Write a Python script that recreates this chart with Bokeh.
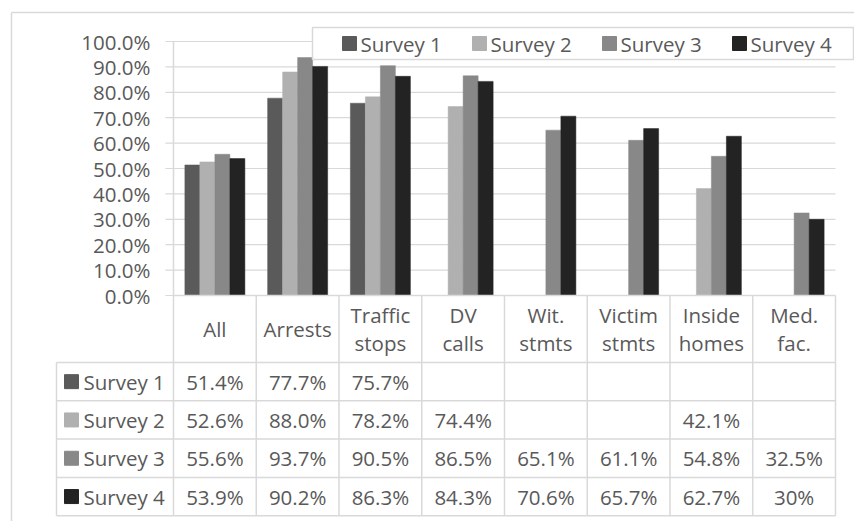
from bokeh.plotting import figure
from bokeh.models import Range1d, ColumnDataSource
from bokeh.core.properties import value
from bokeh.embed import file_html
from bokeh.resources import INLINE

# ---- data -------------------------------------------------------------
categories = ["All", "Arrests", "Traffic\nstops", "DV\ncalls", "Wit.\nstmts",
              "Victim\nstmts", "Inside\nhomes", "Med.\nfac."]
series_names = ["Survey 1", "Survey 2", "Survey 3", "Survey 4"]
survey_1 = [51.4, 77.7, 75.7, None, None, None, None, None]
survey_2 = [52.6, 88.0, 78.2, 74.4, None, None, 42.1, None]
survey_3 = [55.6, 93.7, 90.5, 86.5, 65.1, 61.1, 54.8, 32.5]
survey_4 = [53.9, 90.2, 86.3, 84.3, 70.6, 65.7, 62.7, 30.0]
y_ticks = [0, 10, 20, 30, 40, 50, 60, 70, 80, 90, 100]
# cells of the data table printed without a decimal place
whole_number_cells = {("Survey 4", "Med.\nfac.")}

series = [survey_1, survey_2, survey_3, survey_4]
colors = ["#5a5a5a", "#b0b0b0", "#888888", "#232323"]

# ---- layout (pixels) ----------------------------------------------------
W, H = 854, 521
PLOT_L, PLOT_R = 173, 835
ZERO_PX, FULL_PX = 295, 41
CAT_W = (PLOT_R - PLOT_L) / len(categories)
PX_PER_PCT = (ZERO_PX - FULL_PX) / 100.0
BAR_PX = 15
TABLE_L = 56
HEADER_BOTTOM = 362
ROW_H = 38.3
TICK_LEN = 8
FONT = value("Open Sans")
FONT_SIZE = "20.5px"
TEXT_COLOR = "#595959"
LINE_COLOR = "#d9d9d9"


def dx(px):
    return (px - PLOT_L) / CAT_W


def dy(py):
    return (ZERO_PX - py) / PX_PER_PCT


n_cat = len(categories)
row_edges = [HEADER_BOTTOM + ROW_H * k for k in range(len(series) + 1)]
table_bottom = dy(row_edges[-1])

p = figure(width=W, height=H,
           x_range=Range1d(dx(0), dx(W)), y_range=Range1d(dy(H), dy(0)),
           output_backend="svg", toolbar_location=None, min_border=0,
           x_axis_location=None, y_axis_location=None,
           outline_line_color=None, background_fill_color="white",
           border_fill_color="white")
p.xgrid.grid_line_color = None
p.ygrid.grid_line_color = None

# outer chart border
p.segment(x0=[dx(11), dx(11)], y0=[dy(12), dy(12)],
          x1=[dx(W + 5), dx(11)], y1=[dy(12), dy(H + 5)],
          line_color=LINE_COLOR, line_width=1.5)

# horizontal gridlines
p.segment(x0=[0] * (len(y_ticks) - 1), x1=[n_cat] * (len(y_ticks) - 1),
          y0=y_ticks[1:], y1=y_ticks[1:], line_color=LINE_COLOR, line_width=1.2)
# tick marks on the value axis
p.segment(x0=[dx(PLOT_L - TICK_LEN)] * len(y_ticks), x1=[0] * len(y_ticks),
          y0=y_ticks, y1=y_ticks, line_color=LINE_COLOR, line_width=1.2)

# bars
group_w = BAR_PX / CAT_W
for k, (name, vals, col) in enumerate(zip(series_names, series, colors)):
    xs, tops = [], []
    for i, v in enumerate(vals):
        if v is None:
            continue
        xs.append(i + 0.5 + (k - (len(series) - 1) / 2) * group_w)
        tops.append(v)
    src = ColumnDataSource(dict(x=xs, top=tops))
    p.vbar(x="x", top="top", bottom=0, width=group_w, source=src,
           fill_color=col, line_color=col, line_width=0.5)

# value-axis labels
p.text(x=[dx(150)] * len(y_ticks), y=y_ticks,
       text=[f"{t:.1f}%" for t in y_ticks],
       text_font=FONT, text_font_size=FONT_SIZE, text_color=TEXT_COLOR,
       text_align="right", text_baseline="middle")

# data table grid
h_y = [0] + [dy(r) for r in row_edges]
h_x0 = [0] + [dx(TABLE_L)] * len(row_edges)
p.segment(x0=h_x0, x1=[n_cat] * len(h_y), y0=h_y, y1=h_y,
          line_color=LINE_COLOR, line_width=1.5)
v_x = list(range(n_cat + 1))
v_y0 = [100] + [0] * n_cat
p.segment(x0=v_x, x1=v_x, y0=v_y0, y1=[table_bottom] * len(v_x),
          line_color=LINE_COLOR, line_width=1.5)
p.segment(x0=[dx(TABLE_L)], x1=[dx(TABLE_L)], y0=[dy(HEADER_BOTTOM)],
          y1=[table_bottom], line_color=LINE_COLOR, line_width=1.5)

# category headers
p.text(x=[i + 0.5 for i in range(n_cat)], y=[dy((ZERO_PX + HEADER_BOTTOM) / 2)] * n_cat,
       text=categories, text_font=FONT, text_font_size=FONT_SIZE,
       text_color=TEXT_COLOR, text_align="center", text_baseline="middle",
       text_line_height=1.0)

# table rows
for k, (name, vals, col) in enumerate(zip(series_names, series, colors)):
    yc = dy((row_edges[k] + row_edges[k + 1]) / 2)
    p.scatter(x=[dx(71)], y=[yc], marker="square", size=14,
              fill_color=col, line_color=col)
    p.text(x=[dx(83)], y=[yc], text=[name], text_font=FONT,
           text_font_size=FONT_SIZE, text_color=TEXT_COLOR,
           text_align="left", text_baseline="middle")
    xs, labels = [], []
    for i, v in enumerate(vals):
        if v is None:
            continue
        xs.append(i + 0.5)
        if (name, categories[i]) in whole_number_cells:
            labels.append(f"{v:.0f}%")
        else:
            labels.append(f"{v:.1f}%")
    p.text(x=xs, y=[yc] * len(xs), text=labels, text_font=FONT,
           text_font_size=FONT_SIZE, text_color=TEXT_COLOR,
           text_align="center", text_baseline="middle")

# legend
LEG_L, LEG_R, LEG_T, LEG_B = 312, 853, 27, 59
LEG_STEP = 130
p.quad(left=[dx(LEG_L)], right=[dx(LEG_R)], top=[dy(LEG_T)], bottom=[dy(LEG_B)],
       fill_color="white", line_color=LINE_COLOR, line_width=1.5)
leg_y = dy((LEG_T + LEG_B) / 2)
p.scatter(x=[dx(349 + LEG_STEP * k) for k in range(len(series))],
          y=[leg_y] * len(series), marker="square", size=14,
          fill_color=colors, line_color=colors)
p.text(x=[dx(360 + LEG_STEP * k) for k in range(len(series))],
       y=[leg_y] * len(series), text=series_names, text_font=FONT,
       text_font_size=FONT_SIZE, text_color=TEXT_COLOR,
       text_align="left", text_baseline="middle")

open("out.html", "w").write(file_html(p, INLINE))
